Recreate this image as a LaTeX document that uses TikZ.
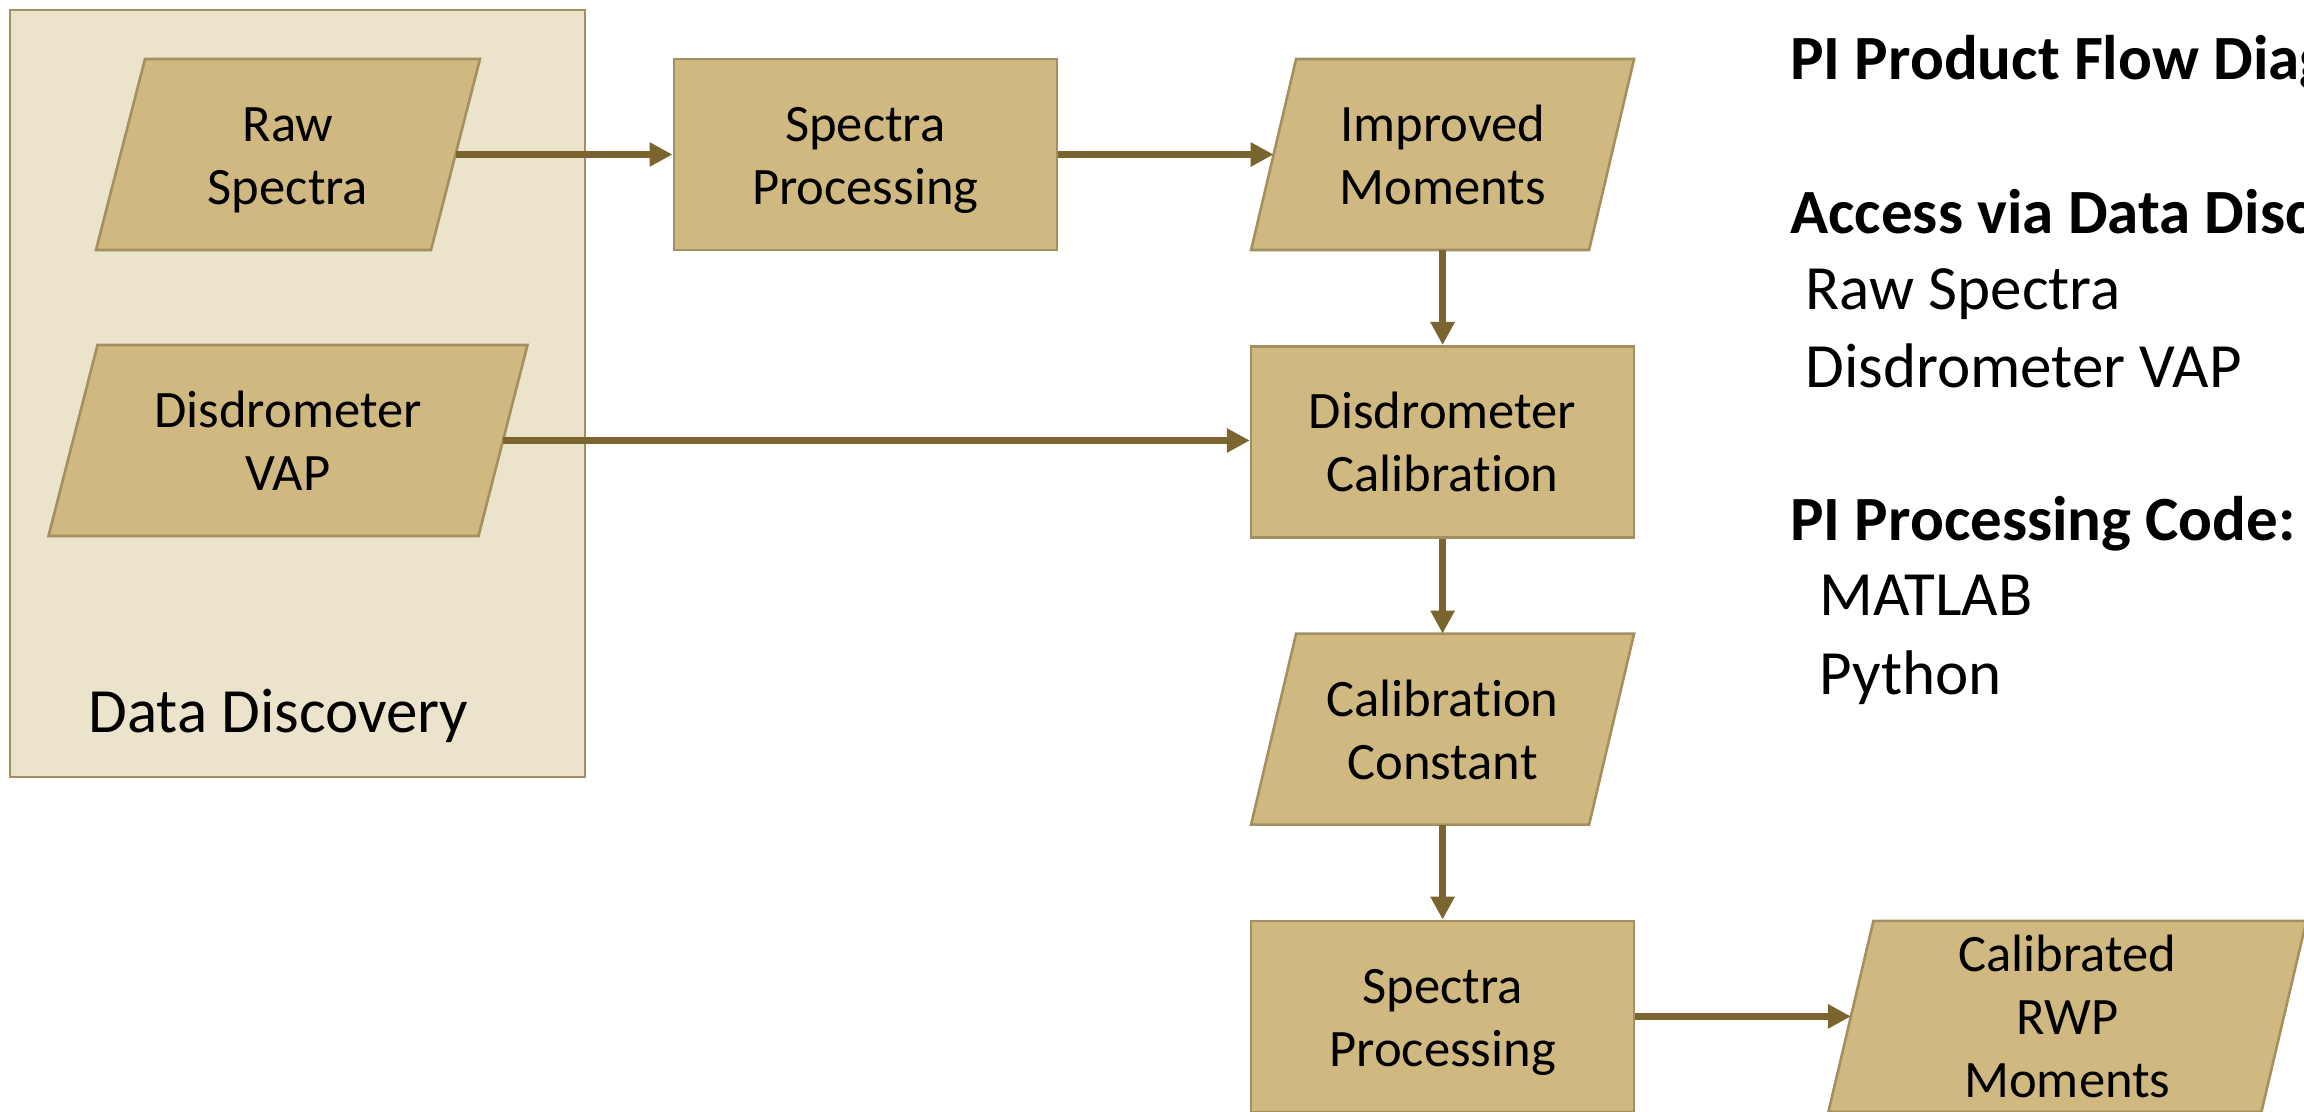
\documentclass[tikz,border=0pt]{standalone}
\usepackage{fontspec}
\setmainfont{Carlito}[Ligatures=NoCommon]
\usetikzlibrary{positioning,arrows.meta,backgrounds}

\definecolor{boxfill}{HTML}{CFB980}
\definecolor{boxline}{HTML}{A38F5F}
\definecolor{ddfill}{HTML}{EBE3CB}
\definecolor{flowcol}{HTML}{7B652F}

\begin{document}
\begin{tikzpicture}[
    procnode/.style={rectangle, draw=boxline, fill=boxfill, line width=1.3pt, inner sep=0pt, minimum width=191.5pt, minimum height=95.5pt, text height=50pt, text depth=0pt, align=center, font=\fontsize{26.3}{31.5}\selectfont},
    datanode/.style={rectangle, inner sep=0pt, outer sep=0pt, minimum width=169pt, minimum height=95.5pt, text height=50pt, text depth=0pt, align=center, font=\fontsize{26.3}{31.5}\selectfont},
    slantfill/.style={draw=boxline, fill=boxfill, line width=1.3pt},
    ddnode/.style={rectangle, draw=boxline, fill=ddfill, line width=1.3pt, minimum width=287.5pt, minimum height=383.5pt},
    sidetext/.style={anchor=base west, inner sep=0pt, font=\fontsize{31.5}{38}\selectfont},
    flow/.style={-{Triangle[length=11.5pt,width=11.5pt]}, line width=3.5pt, draw=flowcol},]
    \useasboundingbox (0,0) rectangle (1152pt,-556pt);
    %Nodes
    \node[datanode, minimum width=167.5pt] (raw) at (144pt,-77.25pt) {Raw\\Spectra};
    \node[datanode, minimum width=215pt] (vap) [below=47.5pt of raw] {Disdrometer\\VAP};
    \node[procnode] (proc1) [right=108.5pt of raw] {Spectra\\Processing};
    \node[datanode] (improved) [right=107.75pt of proc1] {Improved\\Moments};
    \node[procnode] (calib) [below=47.5pt of improved] {Disdrometer\\Calibration};
    \node[datanode] (const) [below=47.5pt of calib] {Calibration\\Constant};
    \node[procnode] (proc2) [below=47.5pt of const] {Spectra\\Processing};
    \node[datanode, minimum width=216.5pt, text height=81.5pt] (rwp) [right=107.75pt of proc2] {Calibrated\\RWP\\Moments};
    \node[sidetext] (ddlabel) at (44pt,-366pt) {Data Discovery};

    %Side text
    \node[sidetext] (ptitle) at (895pt,-40pt) {\bfseries PI Product Flow Diagram};
    \node[sidetext] (paccess) at (895pt,-117pt) {\bfseries Access via Data Discovery:};
    \node[sidetext] (praw) at (902.5pt,-155pt) {Raw Spectra};
    \node[sidetext] (pvap) at (902.5pt,-194pt) {Disdrometer VAP};
    \node[sidetext] (pcode) at (895pt,-270.5pt) {\bfseries PI Processing Code:};
    \node[sidetext] (pmatlab) at (909.5pt,-308pt) {MATLAB};
    \node[sidetext] (ppython) at (909.5pt,-347pt) {Python};

    %Background
    \begin{pgfonlayer}{background}
    \node[ddnode] (dd) at (148.75pt,-196.75pt) {};
    \foreach \n/\s in {raw/12.25pt, vap/12.25pt, improved/11.25pt, const/11.25pt, rwp/11.25pt}
      \draw[slantfill] ([xshift=\s]\n.north west) -- ([xshift=\s]\n.north east) -- ([xshift=-\s]\n.south east) -- ([xshift=-\s]\n.south west) -- cycle;
    \end{pgfonlayer}

    % %Lines
    \draw[flow] (raw) -- (proc1);
    \draw[flow] (proc1) -- (improved);
    \draw[flow] (vap.east) -- (vap.east -| calib.west);
    \draw[flow] (improved) -- (calib);
    \draw[flow] (calib) -- (const);
    \draw[flow] (const) -- (proc2);
    \draw[flow] (proc2) -- (rwp);
\end{tikzpicture}
\end{document}
